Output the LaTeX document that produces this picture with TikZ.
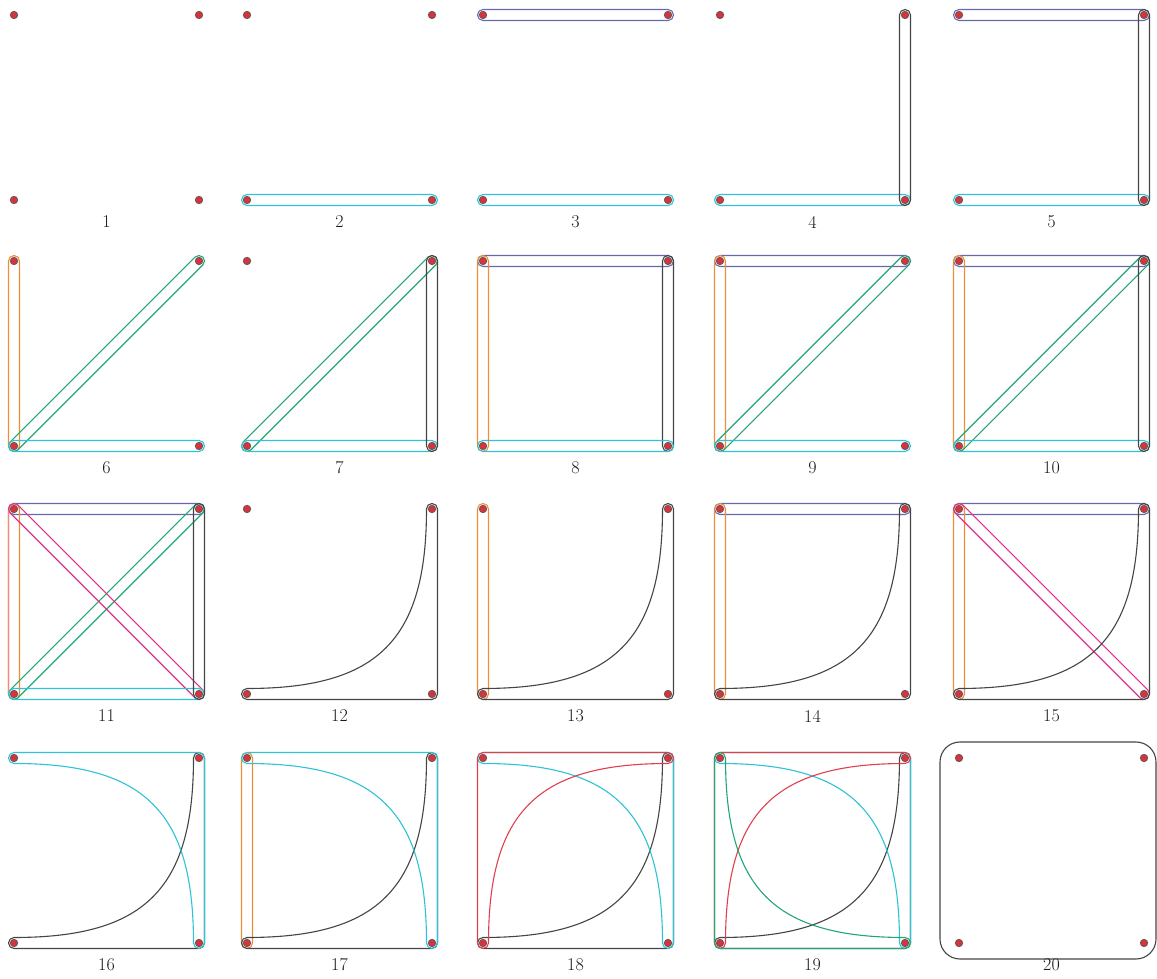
\documentclass[tikz,border=0pt]{standalone}
\usetikzlibrary{calc}
\definecolor{hnavy}{HTML}{6868AC}
\definecolor{hcyan}{HTML}{2EC3D5}
\definecolor{hgray}{HTML}{454545}
\definecolor{horange}{HTML}{EE8E3A}
\definecolor{hgreen}{HTML}{22A673}
\definecolor{hpink}{HTML}{E0308A}
\definecolor{hred}{HTML}{E0404E}
\definecolor{hsalmon}{HTML}{EE8A80}
\definecolor{vfill}{HTML}{D6343C}
\tikzset{
  he/.style={line width=1.1pt},
  vert/.style={circle, fill=vfill, draw=black!65, line width=0.7pt, inner sep=0pt, minimum size=7.5pt},
  lbl/.style={font=\fontsize{18}{20}\selectfont, text=black!90}
}
% axis-aligned pair: lower-left point, upper-right point
\newcommand{\PairE}[3]{\draw[he,#1,rounded corners=5.5pt] ($(#2)+(-5.5,-5.5)$) rectangle ($(#3)+(5.5,5.5)$);}
% diagonal C -> B (45 deg)
\newcommand{\DiagUp}[3]{\draw[he,#1] ($(#2)+(135:5.5pt)$) -- ($(#3)+(135:5.5pt)$) arc[start angle=135,end angle=-45,radius=5.5pt] -- ($(#2)+(-45:5.5pt)$) arc[start angle=-45,end angle=-225,radius=5.5pt] -- cycle;}
% diagonal A -> D (-45 deg)
\newcommand{\DiagDown}[3]{\draw[he,#1] ($(#2)+(45:5.5pt)$) -- ($(#3)+(45:5.5pt)$) arc[start angle=45,end angle=-135,radius=5.5pt] -- ($(#2)+(-135:5.5pt)$) arc[start angle=-135,end angle=-315,radius=5.5pt] -- cycle;}
% three-vertex edge, corner at D in local frame, rotated about panel centre
\newcommand{\TriE}[3]{\begin{scope}[shift={(#2)}]
\draw[he,#1,rotate around={#3:(92.5,92.5)}] (0,5.5) arc[start angle=90,end angle=270,radius=5.5pt] -- (185,-5.5) arc[start angle=-90,end angle=0,radius=5.5pt] -- (190.5,185) arc[start angle=0,end angle=180,radius=5.5pt] .. controls (179.5,54) and (131,5.5) .. (0,5.5) -- cycle;
\end{scope}}
\begin{document}
\begin{tikzpicture}[x=1pt,y=1pt]
\useasboundingbox (0,0) rectangle (1157,978);
\foreach \n/\X/\Y in {1/14/778,2/247/778,3/483/778,4/720/778,5/959/778,
  6/14/532,7/247/532,8/483/532,9/720/532,10/959/532,
  11/14/284,12/247/284,13/483/284,14/720/284,15/959/284,
  16/14/35,17/247/35,18/483/35,19/720/35,20/959/35}{
  \coordinate (p\n C) at (\X,\Y);
  \coordinate (p\n D) at (\X+185,\Y);
  \coordinate (p\n A) at (\X,\Y+185);
  \coordinate (p\n B) at (\X+185,\Y+185);
}
% 2
\PairE{hcyan}{p2C}{p2D}
% 3
\PairE{hnavy}{p3A}{p3B}
\PairE{hcyan}{p3C}{p3D}
% 4
\PairE{hcyan}{p4C}{p4D}
\PairE{hgray}{p4D}{p4B}
% 5
\PairE{hnavy}{p5A}{p5B}
\PairE{hcyan}{p5C}{p5D}
\PairE{hgray}{p5D}{p5B}
% 6
\PairE{horange}{p6C}{p6A}
\DiagUp{hgreen}{p6C}{p6B}
\PairE{hcyan}{p6C}{p6D}
% 7
\DiagUp{hgreen}{p7C}{p7B}
\PairE{hcyan}{p7C}{p7D}
\PairE{hgray}{p7D}{p7B}
% 8
\PairE{hnavy}{p8A}{p8B}
\PairE{horange}{p8C}{p8A}
\PairE{hgray}{p8D}{p8B}
\PairE{hcyan}{p8C}{p8D}
% 9
\PairE{hnavy}{p9A}{p9B}
\PairE{horange}{p9C}{p9A}
\DiagUp{hgreen}{p9C}{p9B}
\PairE{hcyan}{p9C}{p9D}
% 10
\PairE{hnavy}{p10A}{p10B}
\PairE{horange}{p10C}{p10A}
\DiagUp{hgreen}{p10C}{p10B}
\PairE{hcyan}{p10C}{p10D}
\PairE{hgray}{p10D}{p10B}
% 11
\PairE{hnavy}{p11A}{p11B}
\PairE{horange}{p11C}{p11A}
\draw[he,hsalmon] ($(p11A)+(0,5.5)$) arc[start angle=90,end angle=180,radius=5.5pt] -- ($(p11C)+(-5.5,0)$) arc[start angle=180,end angle=270,radius=5.5pt];
\DiagUp{hgreen}{p11C}{p11B}
\DiagDown{hpink}{p11A}{p11D}
\PairE{hcyan}{p11C}{p11D}
\PairE{hgray}{p11D}{p11B}
% 12
\TriE{hgray}{p12C}{0}
% 13
\PairE{horange}{p13C}{p13A}
\TriE{hgray}{p13C}{0}
% 14
\PairE{hnavy}{p14A}{p14B}
\PairE{horange}{p14C}{p14A}
\TriE{hgray}{p14C}{0}
% 15
\PairE{hnavy}{p15A}{p15B}
\PairE{horange}{p15C}{p15A}
\DiagDown{hpink}{p15A}{p15D}
\TriE{hgray}{p15C}{0}
% 16
\TriE{hgray}{p16C}{0}
\TriE{hcyan}{p16C}{90}
% 17
\PairE{horange}{p17C}{p17A}
\TriE{hgray}{p17C}{0}
\TriE{hcyan}{p17C}{90}
% 18
\TriE{hgray}{p18C}{0}
\TriE{hcyan}{p18C}{90}
\TriE{hred}{p18C}{180}
% 19
\TriE{hgray}{p19C}{0}
\TriE{hcyan}{p19C}{90}
\TriE{hred}{p19C}{180}
\TriE{hgreen}{p19C}{270}
% 20
\draw[he,hgray,rounded corners=20pt] ($(p20C)+(-19,-16)$) rectangle ($(p20B)+(12,16)$);
% vertices and labels
\foreach \n in {1,...,20}{
  \foreach \v in {A,B,C,D}{\node[vert] (v\n\v) at (p\n\v) {};}
  \node[lbl] (l\n) at ($(p\n C)+(92.5,-22)$) {\n};
}
\end{tikzpicture}
\end{document}
